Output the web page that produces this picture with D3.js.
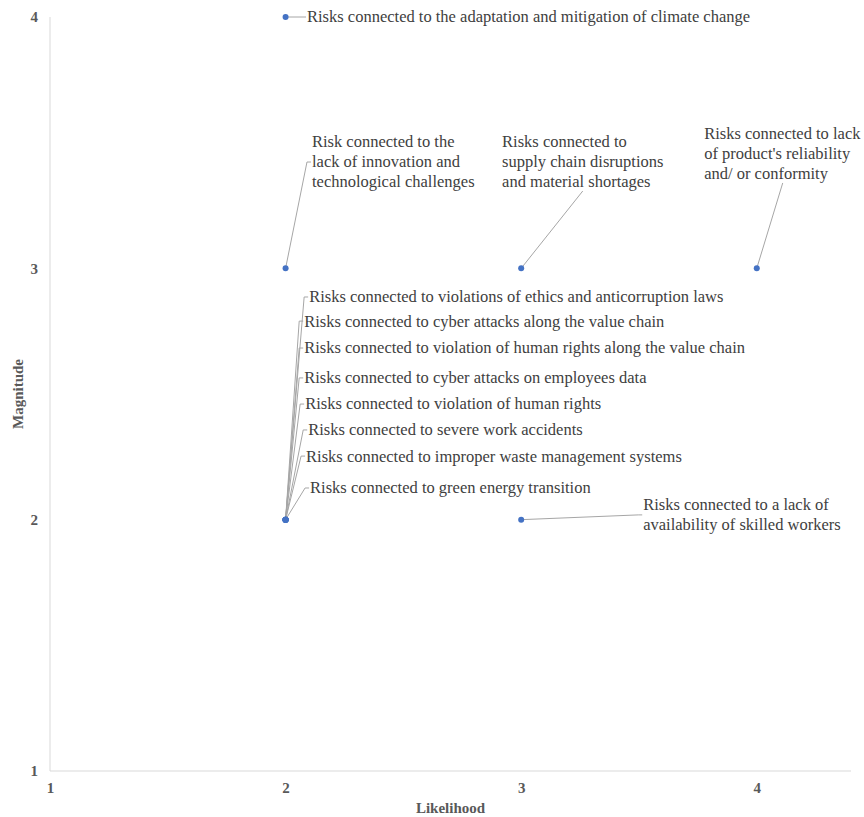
<!DOCTYPE html>
<html><head><meta charset="utf-8">
<script src="https://cdn.jsdelivr.net/npm/d3@7"></script>
<style>
html,body{margin:0;padding:0;background:#fff;}
svg{display:block;}
</style></head>
<body>
<svg id="chart" width="864" height="817"></svg>
<script>
// ---- data ----
const likelihood = [2, 2, 3, 4, 2, 2, 2, 2, 2, 2, 2, 2, 3];
const magnitude  = [4, 3, 3, 3, 2, 2, 2, 2, 2, 2, 2, 2, 2];
const riskLabels = [
  ["Risks connected to the adaptation and mitigation of climate change"],
  ["Risk connected to the", "lack of innovation and", "technological challenges"],
  ["Risks connected to", "supply chain disruptions", "and material shortages"],
  ["Risks connected to lack", "of product's reliability", "and/ or conformity"],
  ["Risks connected to violations of ethics and anticorruption laws"],
  ["Risks connected to cyber attacks along the value chain"],
  ["Risks connected to violation of human rights along the value chain"],
  ["Risks connected to cyber attacks on employees data"],
  ["Risks connected to violation of human rights"],
  ["Risks connected to severe work accidents"],
  ["Risks connected to improper waste management systems"],
  ["Risks connected to green energy transition"],
  ["Risks connected to a lack of", "availability of skilled workers"]
];
const labelX = [2.091, 2.112, 2.919, 3.777, 2.100, 2.079, 2.079, 2.079, 2.083, 2.096, 2.087, 2.104, 3.518];
const labelY = [4.000, 3.423, 3.423, 3.455, 2.886, 2.790, 2.683, 2.564, 2.460, 2.357, 2.253, 2.126, 2.019];
const attach = ["left","left","bottom","bottom","left","left","left","left","left","left","left","left","left"];
const xTicks = [1, 2, 3, 4];
const yTicks = [1, 2, 3, 4];
const xTitle = "Likelihood";
const yTitle = "Magnitude";

// ---- layout ----
const svg = d3.select("#chart");
const serif = "'Liberation Serif', 'Times New Roman', Times, serif";
const x = d3.scaleLinear().domain([1, 4.4]).range([50, 851]);
const y = d3.scaleLinear().domain([1, 4]).range([771, 17]);
const lineH = 20;
const fs = 16.5;

svg.append("line").attr("x1", x(1)).attr("x2", x(1)).attr("y1", y(4)).attr("y2", y(1))
  .attr("stroke", "#d9d9d9").attr("stroke-width", 1);
svg.append("line").attr("x1", x(1)).attr("x2", x(4.4)).attr("y1", y(1)).attr("y2", y(1))
  .attr("stroke", "#d9d9d9").attr("stroke-width", 1);

const xAxis = svg.append("g").attr("transform", `translate(0,${y(1)})`)
  .call(d3.axisBottom(x).tickValues(xTicks).tickFormat(d3.format("d")).tickSize(0).tickPadding(11));
const yAxis = svg.append("g").attr("transform", `translate(${x(1)},0)`)
  .call(d3.axisLeft(y).tickValues(yTicks).tickFormat(d3.format("d")).tickSize(0).tickPadding(12));
[xAxis, yAxis].forEach(g => {
  g.attr("font-family", serif);
  g.select(".domain").remove();
  g.selectAll("text").attr("font-size", 15)
    .attr("font-weight", "bold").attr("fill", "#595959");
});

svg.append("text").attr("x", (x(1) + x(4.4)) / 2).attr("y", 813)
  .attr("text-anchor", "middle").attr("font-family", serif).attr("font-size", 15)
  .attr("font-weight", "bold").attr("fill", "#595959").text(xTitle);
svg.append("text").attr("transform", `translate(23,${(y(1) + y(4)) / 2}) rotate(-90)`)
  .attr("text-anchor", "middle").attr("font-family", serif).attr("font-size", 15)
  .attr("font-weight", "bold").attr("fill", "#595959").text(yTitle);

const labelG = svg.append("g");
const leaderG = svg.insert("g", ":first-child");
riskLabels.forEach((lines, i) => {
  const lx = x(labelX[i]), cy = y(labelY[i]);
  const n = lines.length;
  const t = labelG.append("text").attr("font-family", serif).attr("font-size", fs).attr("fill", "#404040");
  lines.forEach((s, k) => {
    t.append("tspan").attr("x", lx).attr("y", cy + (k - (n - 1) / 2) * lineH).attr("dy", "0.33em").text(s);
  });
  const bb = t.node().getBBox();
  const px = x(likelihood[i]), py = y(magnitude[i]);
  let pts;
  if (attach[i] === "bottom") {
    const bx = bb.x + bb.width / 2, by = cy + (n / 2) * lineH - 1;
    pts = [[px, py], [bx, by]];
  } else {
    pts = [[px, py], [lx - 5, cy], [lx - 1, cy]];
  }
  leaderG.append("path").attr("d", d3.line()(pts)).attr("fill", "none")
    .attr("stroke", "#a6a6a6").attr("stroke-width", 1);
});

svg.append("g").selectAll("circle").data(likelihood).join("circle")
  .attr("cx", (d) => x(d)).attr("cy", (d, i) => y(magnitude[i])).attr("r", 3)
  .attr("fill", "#4472c4");
</script>
</body></html>
